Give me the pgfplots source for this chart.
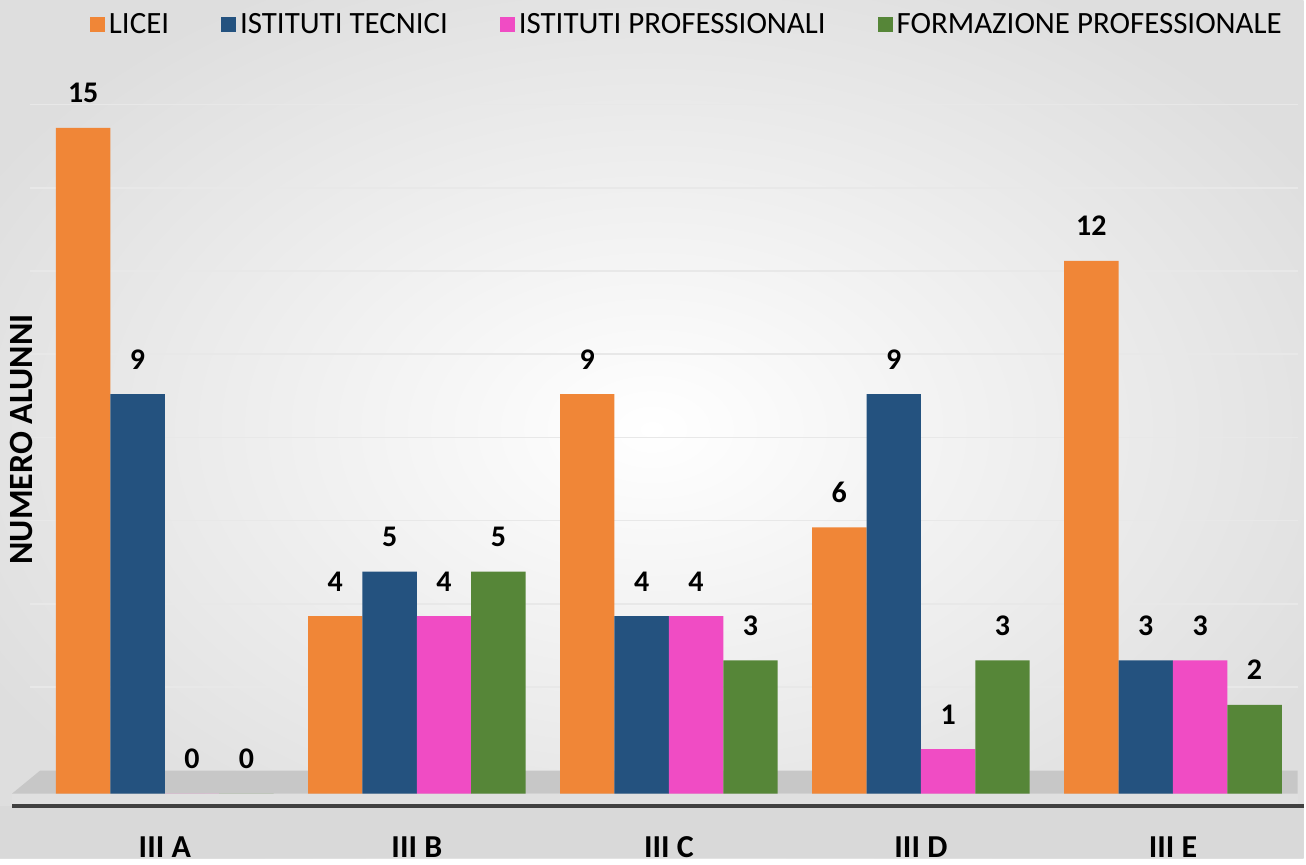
\documentclass[border=0pt]{standalone}
\usepackage{fontspec}
\setmainfont{Carlito}
\usepackage{pgfplots}
\pgfplotsset{compat=1.18}
\pgfdeclarelayer{background}
\pgfsetlayers{background,main}

\definecolor{licei}{RGB}{240,134,55}
\definecolor{tecnici}{RGB}{36,82,127}
\definecolor{profi}{RGB}{240,76,196}
\definecolor{formaz}{RGB}{86,134,56}

\begin{document}
\begin{tikzpicture}
\begin{axis}[
    scale only axis,
    width=635pt, height=373.5pt,
    clip=false,
    xmin=-0.535, xmax=4.495,
    ymin=-0.27, ymax=16.53,
    ybar=0pt,
    bar width=27.25pt,
    /pgf/number format/assume math mode=true,
    xtick={0,1,2,3,4},
    xticklabels={III A,III B,III C,III D,III E},
    xticklabel style={font=\bfseries\fontsize{16}{18}\selectfont, yshift=-12pt},
    ytick={2.4,4.275,6.15,8.025,9.9,11.775,13.65,15.525},
    yticklabels={},
    ymajorgrids,
    major grid style={black!9, line width=0.8pt},
    major tick length=0pt,
    axis line style={draw=none},
    ylabel={NUMERO ALUNNI},
    ylabel style={at={(axis description cs:-0.0063,0.491)}, anchor=center,
        font=\bfseries\fontsize{17}{19}\selectfont},
    nodes near coords,
    every node near coord/.append style={font=\bfseries\fontsize{15}{17}\selectfont, black, yshift=9pt},
    legend columns=4,
    legend style={draw=none, fill=none, at={(axis description cs:0.519,1.047)}, anchor=center,
        font=\fontsize{15.5}{17}\selectfont,
        /tikz/every even column/.append style={column sep=24pt}},
    legend image code/.code={\fill[#1] (0pt,-3.75pt) rectangle (7.5pt,3.75pt);},
]
\coordinate (O) at (rel axis cs:0,0);
% floor
\fill[black!22] (axis cs:-0.606,0) -- (axis cs:-0.495,0.517) -- (axis cs:4.495,0.517) -- (axis cs:4.495,0) -- cycle;
\fill[white!88!black] (axis cs:-0.606,-0.25) rectangle (axis cs:4.495,0);
\draw[black!75, line width=2pt] (axis cs:-0.606,-0.27) -- (axis cs:4.52,-0.27);

\addplot[fill=licei, draw=none] coordinates {(0,15) (1,4) (2,9) (3,6) (4,12)};
\addplot[fill=tecnici, draw=none] coordinates {(0,9) (1,5) (2,4) (3,9) (4,3)};
\addplot[fill=profi, draw=none] coordinates {(0,0) (1,4) (2,4) (3,1) (4,3)};
\addplot[fill=formaz, draw=none] coordinates {(0,0) (1,5) (2,3) (3,3) (4,2)};
\legend{LICEI,ISTITUTI TECNICI,ISTITUTI PROFESSIONALI,FORMAZIONE PROFESSIONALE}
\end{axis}
\begin{pgfonlayer}{background}
\begin{scope}
\clip ([shift={(-15pt,-26.5pt)}]O) rectangle +(653pt,430pt);
\shade[inner color=white, outer color=black!13] ([shift={(-75pt,-66.5pt)}]O) rectangle +(773pt,510pt);
\fill[black!15] ([shift={(-15pt,-26.5pt)}]O) rectangle +(653pt,26.5pt);
\end{scope}
\end{pgfonlayer}
\path[use as bounding box] ([shift={(-15pt,-26.5pt)}]O) rectangle +(653pt,430pt);
\end{tikzpicture}
\end{document}
